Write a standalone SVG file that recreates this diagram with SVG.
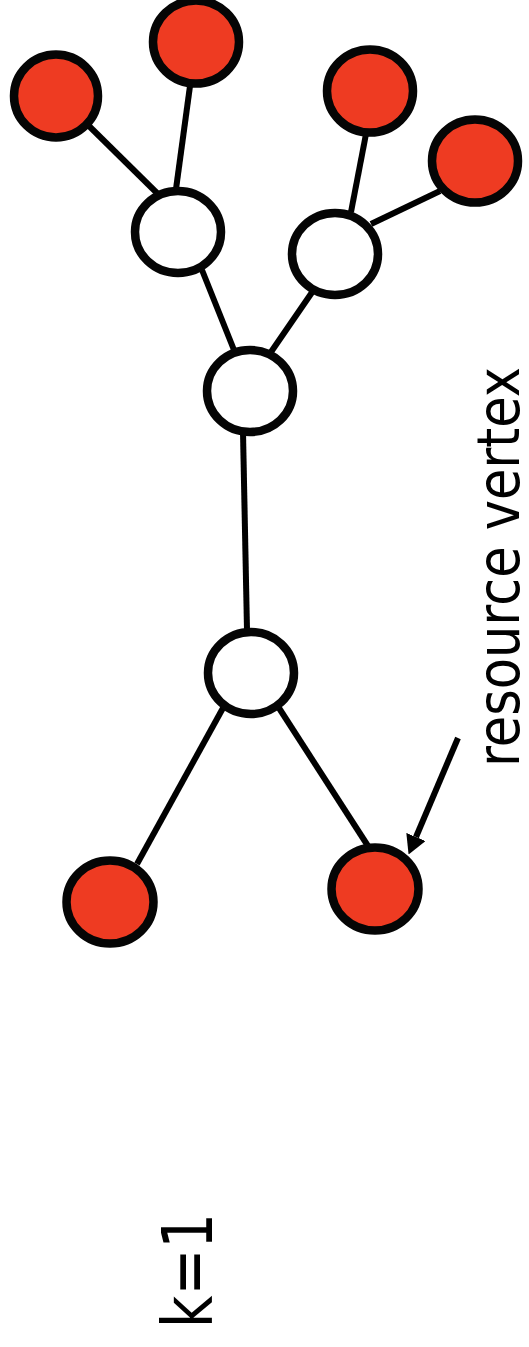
<svg xmlns="http://www.w3.org/2000/svg" width="529" height="1347" viewBox="0 0 529 1347">
  <style>
    .edge { stroke: #000; stroke-width: 6; fill: none; }
    .node { stroke: #050505; stroke-width: 8.5; }
    .res { fill: #ee3b22; }
    .inner { fill: #ffffff; }
    .label { font-family: "DejaVu Sans", Verdana, sans-serif; fill: #000; }
  </style>
  <defs>
    <marker id="head" viewBox="0 0 19 21" refX="0" refY="10.5" markerWidth="19" markerHeight="21" orient="auto" markerUnits="userSpaceOnUse">
      <path d="M0,0 L19,10.5 L0,21 Z" fill="#000"/>
    </marker>
  </defs>
  <rect width="529" height="1347" fill="#fff"/>

  <g id="connectors">
    <line class="edge" x1="89" y1="126" x2="160" y2="196"/>
    <line class="edge" x1="190" y1="86" x2="176" y2="189"/>
    <line class="edge" x1="366" y1="134" x2="351" y2="212"/>
    <line class="edge" x1="440" y1="191" x2="371" y2="224"/>
    <line class="edge" x1="202" y1="270" x2="234" y2="350"/>
    <line class="edge" x1="315" y1="288" x2="271" y2="352"/>
    <line class="edge" x1="243" y1="432" x2="247" y2="630"/>
    <line class="edge" x1="223" y1="708" x2="137" y2="864"/>
    <line class="edge" x1="279" y1="708" x2="368" y2="846"/>
    <line class="edge" x1="458" y1="738" x2="416" y2="837" marker-end="url(#head)"/>
  </g>

  <g id="leaf-a"><ellipse class="node res" cx="56" cy="96" rx="42" ry="41.5"/></g>
  <g id="leaf-b"><ellipse class="node res" cx="196" cy="42" rx="43" ry="41.5"/></g>
  <g id="leaf-c"><ellipse class="node res" cx="370" cy="91" rx="43" ry="41.5"/></g>
  <g id="leaf-d"><ellipse class="node res" cx="475" cy="161" rx="43" ry="41.5"/></g>
  <g id="hub-left"><ellipse class="node inner" cx="178" cy="232" rx="43" ry="41"/></g>
  <g id="hub-right"><ellipse class="node inner" cx="335" cy="254" rx="43" ry="41"/></g>
  <g id="hub-center"><ellipse class="node inner" cx="250" cy="391" rx="43" ry="41"/></g>
  <g id="hub-lower"><ellipse class="node inner" cx="251" cy="673" rx="43" ry="41"/></g>
  <g id="leaf-e"><ellipse class="node res" cx="110" cy="902" rx="43.5" ry="41.5"/></g>
  <g id="leaf-f"><ellipse class="node res" cx="375" cy="889" rx="43.5" ry="41.5"/></g>

  <g id="caption-resource">
    <text class="label" transform="translate(519,767) rotate(-90)" font-size="58" textLength="400" lengthAdjust="spacingAndGlyphs">resource vertex</text>
  </g>
  <g id="caption-k">
    <text class="label" transform="translate(212,1328) rotate(-90)" font-size="70" textLength="115" lengthAdjust="spacingAndGlyphs">k=1</text>
  </g>
</svg>
